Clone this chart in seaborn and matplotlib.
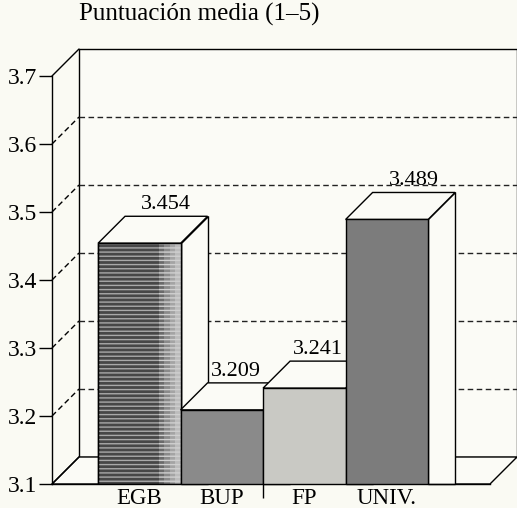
import numpy as np
import pandas as pd
import seaborn as sns
import matplotlib.pyplot as plt
from matplotlib.patches import Polygon, Rectangle
from matplotlib.transforms import ScaledTranslation, IdentityTransform

categories = ['EGB', 'BUP', 'FP', 'UNIV.']
values = [3.454, 3.209, 3.241, 3.489]
yticks = [3.1, 3.2, 3.3, 3.4, 3.5, 3.6, 3.7]
title = 'Puntuación media (1–5)'

colors = ['#474747', '#8a8a8a', '#c9c9c4', '#7c7c7c']
BG = '#fafaf3'
FACE = '#fbfbf6'
DX, DY = 27, 27  # depth offset in pixels

sns.set_style('white')
plt.rcParams['font.family'] = ['Liberation Serif', 'DejaVu Serif']
plt.rcParams['hatch.linewidth'] = 1.0
plt.rcParams['text.color'] = 'black'

fig = plt.figure(figsize=(5.17, 5.08), dpi=100, facecolor=BG)
ax = fig.add_axes([52 / 517, 24 / 508, 438 / 517, 408 / 508])
ax.set_facecolor('none')

df = pd.DataFrame({'nivel': categories, 'media': values})
sns.barplot(data=df, x='nivel', y='media', hue='nivel', palette=colors,
            width=1, edgecolor='black', linewidth=1, saturation=1,
            errorbar=None, legend=False, ax=ax)
bars = list(ax.patches)
ax.set_xlim(-1.058, 4.25)
ax.set_ylim(yticks[0], yticks[-1])

off = ScaledTranslation(DX / 100, DY / 100, fig.dpi_scale_trans)
d = np.array([DX, DY])
ident = IdentityTransform()

# back wall
ax.add_patch(Rectangle((0, 0), 1, 1, transform=ax.transAxes + off,
                       facecolor=FACE, edgecolor='black', lw=1, zorder=0,
                       clip_on=False))

# floor and left wall
f0, f1 = ax.transAxes.transform([(0, 0), (1, 0)])
ax.add_patch(Polygon([f0, f1, f1 + d, f0 + d], closed=True, transform=ident,
                     facecolor=FACE, edgecolor='black', lw=1, zorder=0.5,
                     clip_on=False))
yax = ax.get_yaxis_transform()
for t in yticks:
    p0 = yax.transform((0, t))
    ls = '-' if t in (yticks[0], yticks[-1]) else (0, (4, 2.5))
    ax.plot([p0[0], p0[0] + DX], [p0[1], p0[1] + DY], transform=ident,
            color='black', lw=1, ls=ls, zorder=1, clip_on=False)
    if t not in (yticks[0], yticks[-1]):
        ax.plot([0, 1], [t, t], transform=yax + off, color='#222222', lw=1,
                ls=(0, (4, 2.5)), zorder=1, clip_on=False)

# 3D faces of the bars, left to right
for i, p in enumerate(bars):
    x0, w, h = p.get_x(), p.get_width(), p.get_height()
    fl, fr, br = ax.transData.transform([(x0, h), (x0 + w, h), (x0 + w, yticks[0])])
    side = [fr, br, br + [DX, 0], fr + d]
    top = [fl, fr, fr + d, fl + d]
    for poly in (side, top):
        ax.add_patch(Polygon(poly, closed=True, transform=ident, facecolor=FACE,
                             edgecolor='black', lw=1, zorder=10 + 3 * i,
                             clip_on=False))
    p.set_zorder(11 + 3 * i)

    # value label above the back edge of the top face
    shift = -13 if i + 1 < len(values) and values[i + 1] > values[i] else 0
    ax.annotate(f'{values[i]:.3f}', xy=(x0 + w / 2, h),
                xytext=(DX + shift, DY + 2), textcoords='offset pixels',
                ha='center', va='bottom', fontsize=16, zorder=50)

# brick texture on EGB
p = bars[0]
x0, w, h = p.get_x(), p.get_width(), p.get_height()
ax.add_patch(Rectangle((x0, yticks[0]), 0.74 * w, h - yticks[0], fill=False,
                       hatch='----', edgecolor='#a9a9a9', lw=0, zorder=11.2))
strip = ['#6a6a6a', '#8a8a8a', '#a4a4a4', '#bcbcbc']
for k, c in enumerate(strip):
    ax.add_patch(Rectangle((x0 + w * (0.74 + 0.065 * k), yticks[0]), 0.065 * w,
                           h - yticks[0], facecolor=c, hatch='----',
                           edgecolor='#d0d0d0', lw=0, zorder=11.3))
ax.add_patch(Rectangle((x0, yticks[0]), w, h - yticks[0], fill=False,
                       edgecolor='black', lw=1, zorder=11.4))

# axes styling
for s in ('top', 'right'):
    ax.spines[s].set_visible(False)
for s in ('left', 'bottom'):
    ax.spines[s].set_color('black')
    ax.spines[s].set_linewidth(1)
ax.spines['bottom'].set_zorder(40)
ax.set_yticks(yticks)
ax.set_yticklabels([f'{t:.1f}' for t in yticks])
ax.tick_params(axis='y', left=True, length=9.5, width=1, pad=1,
               labelsize=17, colors='black', direction='out')
ax.tick_params(axis='x', which='major', length=0, pad=3, labelsize=16.5,
               colors='black')
ax.set_xticks([1.5], minor=True)
ax.tick_params(axis='x', which='minor', bottom=True, length=10, width=1,
               direction='out', color='black')
ax.set(xlabel='', ylabel='')

fig.text(79 / 517, 1 - 21 / 508, title, fontsize=18, ha='left', va='baseline')

fig.savefig('out.png', dpi=100, facecolor=BG)
